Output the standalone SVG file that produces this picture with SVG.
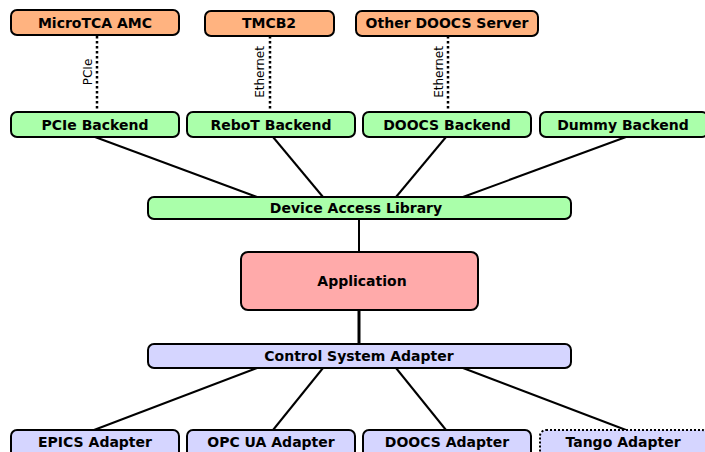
<svg xmlns="http://www.w3.org/2000/svg" width="705" height="452" viewBox="0 0 705 452">
<style>
.box{stroke:#000;stroke-width:2}
.hw{fill:#ffb380}
.be{fill:#aaffaa}
.app{fill:#ffaaaa}
.ad{fill:#d5d5ff}
.t{font-family:"DejaVu Sans",sans-serif;font-weight:bold;font-size:14px;text-anchor:middle;fill:#000}
.l{font-family:"DejaVu Sans",sans-serif;font-size:12px;text-anchor:middle;fill:#000}
.c{stroke:#000;stroke-width:2;fill:none}
.d{stroke:#000;stroke-width:2.5;fill:none;stroke-dasharray:2.5,2.5}
</style>
<rect width="705" height="452" fill="#fff"/>
<g id="connectors">
<line class="d" x1="97" y1="36" x2="97" y2="112"/>
<line class="d" x1="270" y1="36" x2="270" y2="112"/>
<line class="d" x1="448" y1="36" x2="448" y2="112"/>
<text class="l" transform="translate(92,72) rotate(-90)">PCIe</text>
<text class="l" transform="translate(264,72) rotate(-90)">Ethernet</text>
<text class="l" transform="translate(443,72) rotate(-90)">Ethernet</text>
<line class="c" x1="95" y1="137" x2="257" y2="197"/>
<line class="c" x1="273" y1="137" x2="323" y2="197"/>
<line class="c" x1="446" y1="137" x2="396" y2="197"/>
<line class="c" x1="626" y1="137" x2="463" y2="197"/>
<line class="c" x1="359" y1="219" x2="359" y2="252"/>
<line class="c" x1="359" y1="310" x2="359" y2="344" style="stroke-width:3"/>
<line class="c" x1="257" y1="368" x2="94" y2="430"/>
<line class="c" x1="323" y1="368" x2="273" y2="430"/>
<line class="c" x1="396" y1="368" x2="446" y2="430"/>
<line class="c" x1="463" y1="368" x2="626" y2="430"/>
</g>
<g id="microtca"><rect class="box hw" x="11" y="10" width="168" height="25" rx="6"/><text class="t" x="95" y="28">MicroTCA AMC</text></g>
<g id="tmcb2"><rect class="box hw" x="205" y="11" width="129" height="25" rx="6"/><text class="t" x="269" y="28">TMCB2</text></g>
<g id="otherdoocs"><rect class="box hw" x="356" y="11" width="182" height="25" rx="6"/><text class="t" x="447" y="28">Other DOOCS Server</text></g>
<g id="pciebackend"><rect class="box be" x="11" y="112" width="168" height="25" rx="6"/><text class="t" x="95" y="130">PCIe Backend</text></g>
<g id="rebotbackend"><rect class="box be" x="187" y="112" width="168" height="25" rx="6"/><text class="t" x="271" y="130">ReboT Backend</text></g>
<g id="doocsbackend"><rect class="box be" x="363" y="112" width="168" height="25" rx="6"/><text class="t" x="447" y="130">DOOCS Backend</text></g>
<g id="dummybackend"><rect class="box be" x="540" y="112" width="168" height="25" rx="6"/><text class="t" x="623" y="130">Dummy Backend</text></g>
<g id="dal"><rect class="box be" x="148" y="197" width="423" height="22" rx="6"/><text class="t" x="356" y="213">Device Access Library</text></g>
<g id="application"><rect class="box app" x="241" y="252" width="237" height="58" rx="7"/><text class="t" x="362" y="286">Application</text></g>
<g id="csa"><rect class="box ad" x="148" y="344" width="423" height="24" rx="6"/><text class="t" x="359" y="361">Control System Adapter</text></g>
<g id="epics"><rect class="box ad" x="11" y="430" width="168" height="28" rx="6"/><text class="t" x="95" y="447">EPICS Adapter</text></g>
<g id="opcua"><rect class="box ad" x="187" y="430" width="168" height="28" rx="6"/><text class="t" x="271" y="447">OPC UA Adapter</text></g>
<g id="doocsadapter"><rect class="box ad" x="363" y="430" width="168" height="28" rx="6"/><text class="t" x="447" y="447">DOOCS Adapter</text></g>
<g id="tango"><rect class="box ad" x="540" y="430" width="168" height="28" rx="6" style="stroke-dasharray:2,2"/><text class="t" x="623" y="447">Tango Adapter</text></g>
</svg>
